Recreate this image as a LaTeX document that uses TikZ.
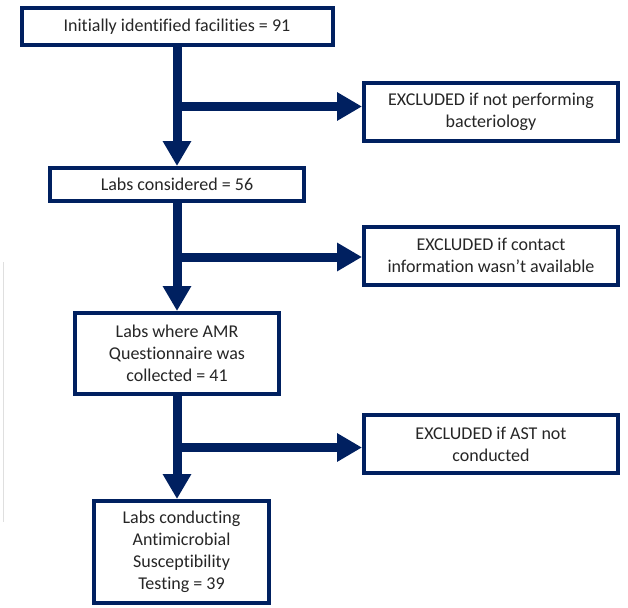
\documentclass[tikz,border=0pt]{standalone}
\usepackage{fontspec}
\setmainfont{Carlito}[Ligatures=CommonOff]
\usetikzlibrary{arrows.meta,calc}
\definecolor{navy}{HTML}{002060}
\begin{document}
\begin{tikzpicture}[
x=0.75pt,y=-0.75pt,
stagebox/.style={
% The shape:
rectangle,
% The border:
line width=3pt,
draw=navy, % dark navy blue
% The filling:
fill=white,
% Font
font=\fontsize{13.5}{16.5}\selectfont,
text=black!85,
align=center,
inner sep=0pt
},
exclbox/.style={
stagebox,
% The size:
minimum width=190.5pt,
minimum height=43.5pt
},
flow/.style={
% The stroke:
line width=6.75pt,
draw=navy,
% The tip:
-{Triangle[length=18.75pt,width=20.25pt]}
}]
\useasboundingbox (0,0) rectangle (628,607);
\draw[gray!25, line width=0.75pt] (3,262) -- (3,522);
\node [stagebox, minimum width=233.25pt, minimum height=27.75pt] (facilities) at (177,26.5) {Initially identified facilities = 91};
\node [stagebox, minimum width=190.5pt, minimum height=24.75pt] (considered) at (177,184.5) {Labs considered = 56};
\node [stagebox, minimum width=153pt, minimum height=60.75pt] (questionnaire) at (177,353.5) {Labs where AMR\\Questionnaire was\\collected = 41};
\node [stagebox, minimum width=131.25pt, minimum height=76.5pt] (tested) at (181.5,552) {Labs conducting\\Antimicrobial\\Susceptibility\\Testing = 39};
\node [exclbox] (nobact) at (491,112) {EXCLUDED if not performing\\bacteriology};
\node [exclbox] (nocontact) at (491,255.5) {EXCLUDED if contact\\information wasn’t available};
\node [exclbox] (noast) at (491,444) {EXCLUDED if AST not\\conducted};
% main flow
\draw [flow] (facilities.south) -- (considered.north);
\draw [flow] (considered.south) -- (questionnaire.north);
\draw [flow] (questionnaire.south) -- (questionnaire.south |- tested.north);
% exclusions
\coordinate (split1) at ($(facilities.south)!0.5!(considered.north)$);
\coordinate (split2) at ($(considered.south)!0.5!(questionnaire.north)$);
\coordinate (split3) at ($(questionnaire.south)!0.5!(questionnaire.south |- tested.north)$);
\draw [flow] (split1) -- (split1 -| nobact.west);
\draw [flow] (split2) -- (split2 -| nocontact.west);
\draw [flow] (split3) -- (split3 -| noast.west);
\end{tikzpicture}
\end{document}
